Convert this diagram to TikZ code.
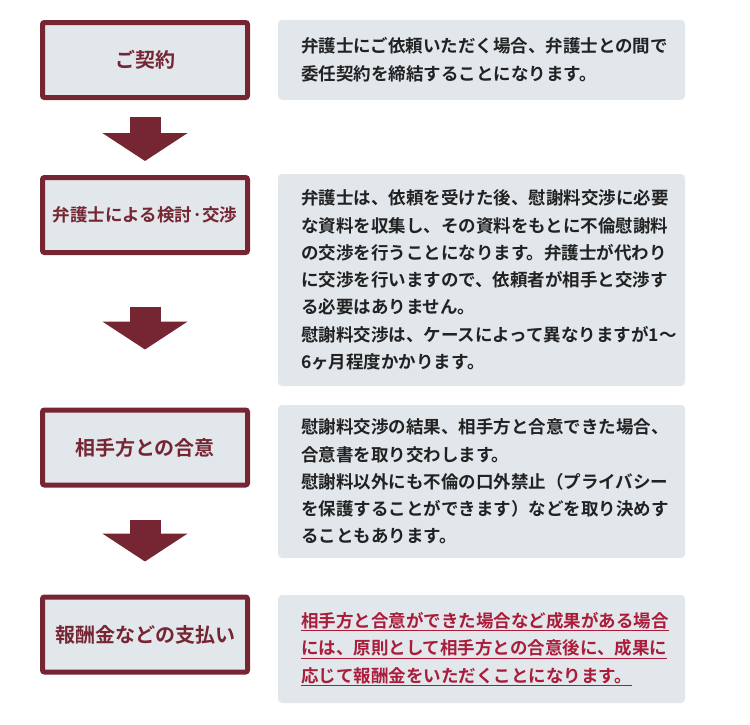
\documentclass[tikz,border=0pt]{standalone}
\usepackage{fontspec}
\usepackage{tikz}
\usetikzlibrary{arrows.meta}
\IfFontExistsTF{Noto Sans CJK JP Bold}{\newfontfamily\jpfont{Noto Sans CJK JP Bold}}{\newfontfamily\jpfont{Noto Sans CJK JP}[FakeBold=2]}
\definecolor{wine}{RGB}{118,37,51}
\definecolor{panel}{RGB}{225,231,235}
\definecolor{ink}{RGB}{34,34,34}
\definecolor{accent}{RGB}{170,28,58}
\tikzset{
	stage/.style={shape=rectangle,draw=wine,fill=panel,line width=5pt,rounded corners=2pt,minimum width=205pt,minimum height=75pt,text=wine,font={\jpfont\fontsize{20}{24}\selectfont}},
	note/.style={shape=rectangle,fill=panel,rounded corners=4pt,minimum width=407pt,inner xsep=0pt,text width=361pt,align=left,text=ink,font={\jpfont\fontsize{17.5}{27.3}\selectfont}},
	flow/.style={color=wine,line width=31pt,-{Triangle[length=28pt,width=84pt]}}
}

\begin{document}
\begin{tikzpicture}[x=1pt,y=-1pt]
	\useasboundingbox (0,0) rectangle (750,724);

	\node[stage] (s1) at (145,60)    {ご契約};
	\node[stage,font={\jpfont\fontsize{17.5}{21}\selectfont}] (s2) at (145,215) {弁護士による検討·交渉};
	\node[stage] (s3) at (145,447.5) {相手方との合意};
	\node[stage] (s4) at (145,634.5) {報酬金などの支払い};

	\node[note,minimum height=80pt]  (n1) at (481.5,59.75) {弁護士にご依頼いただく場合、弁護士との間で\\委任契約を締結することになります。};
	\node[note,minimum height=212pt] (n2) at (481.5,280)   {弁護士は、依頼を受けた後、慰謝料交渉に必要\\な資料を収集し、その資料をもとに不倫慰謝料\\の交渉を行うことになります。弁護士が代わり\\に交渉を行いますので、依頼者が相手と交渉す\\る必要はありません。\\慰謝料交渉は、ケースによって異なりますが1～\\6ヶ月程度かかります。};
	\node[note,minimum height=153pt] (n3) at (481.5,481.5) {慰謝料交渉の結果、相手方と合意できた場合、\\合意書を取り交わします。\\慰謝料以外にも不倫の口外禁止（プライバシー\\を保護することができます）などを取り決めす\\ることもあります。};
	\node[note,minimum height=108pt,text=accent] (n4) at (481.5,649) {\underline{相手方と合意ができた場合など成果がある場合}\\\underline{には、原則として相手方との合意後に、成果に}\\\underline{応じて報酬金をいただくことになります。}};

	\path[flow] (s1) edge[shorten <=17pt,shorten >=14pt] (s2);
	\path[flow] (s2) edge[shorten <=52pt,shorten >=58pt] (s3);
	\path[flow] (s3) edge[shorten <=32pt,shorten >=33pt] (s4);

\end{tikzpicture}
\end{document}
